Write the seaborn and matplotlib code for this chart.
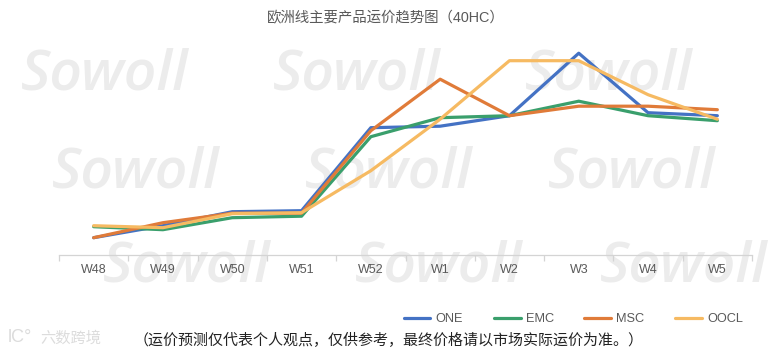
import matplotlib
matplotlib.use('Agg')
import matplotlib.pyplot as plt
import pandas as pd
import seaborn as sns

WEEKS = ['W48', 'W49', 'W50', 'W51', 'W52', 'W1', 'W2', 'W3', 'W4', 'W5']
ONE = [17, 29, 43, 44, 127, 128.5, 139, 201.5, 142, 139]
EMC = [28, 25, 37, 38.5, 118, 137, 139, 153.5, 139, 134]
MSC = [17, 32, 41.5, 41.5, 124, 175.5, 139, 148.5, 148.5, 145]
OOCL = [29, 27, 41, 42, 84, 135.5, 194, 194, 160, 135.5]
SERIES = {'ONE': ONE, 'EMC': EMC, 'MSC': MSC, 'OOCL': OOCL}
COLORS = ['#4472C4', '#3A9F6C', '#E07B39', '#F6BA62']

TITLE = '欧洲线主要产品运价趋势图（40HC）'
NOTE = '（运价预测仅代表个人观点，仅供参考，最终价格请以市场实际运价为准。）'
WATERMARK = 'Sowoll'
# watermark anchors in pixels, left edge / baseline
WATERMARK_SPOTS = [(21, 90), (273, 90), (525, 90),
                   (52, 188), (305, 188), (548, 188),
                   (103, 281), (355, 281), (600, 281)]
W, H = 774, 353
GREY = '#595959'

sns.set_theme(style='white')
plt.rcParams['font.family'] = ['Liberation Sans', 'Noto Sans CJK SC', 'DejaVu Sans']


def main() -> None:
    """Draws the freight trend chart."""
    frames = [pd.DataFrame({'week': WEEKS, 'price': values, 'carrier': name}) for name, values in SERIES.items()]
    data = pd.concat(frames, ignore_index=True)

    fig = plt.figure(figsize=(W / 100, H / 100), dpi=100, facecolor='white')
    ax = fig.add_axes([59 / W, 1 - 254.7 / H, 693 / W, 224.7 / H])
    ax.patch.set_alpha(0)

    for x, y in WATERMARK_SPOTS:
        fig.text(x / W, 1 - y / H, WATERMARK, fontsize=41, style='italic', weight='semibold',
                 family='Open Sans', color='#ececec', zorder=-1)

    sns.lineplot(data=data, x='week', y='price', hue='carrier', palette=COLORS, linewidth=2.3,
                 sort=False, ax=ax, legend=False)
    ax.set_xlim(-0.5, 9.5)
    ax.set_ylim(0, 224.7)
    ax.set_xlabel('')
    ax.set_ylabel('')
    ax.set_yticks([])
    for side in ['top', 'left', 'right']:
        ax.spines[side].set_visible(False)
    ax.spines['bottom'].set_color('#d4d4d4')
    ax.spines['bottom'].set_linewidth(0.9)

    ax.set_xticks(range(len(WEEKS)), WEEKS)
    ax.tick_params(axis='x', which='major', length=0, pad=7, labelsize=9, labelcolor=GREY)
    ax.set_xticks([i - 0.5 for i in range(len(WEEKS) + 1)], minor=True)
    ax.tick_params(axis='x', which='minor', bottom=True, length=4, width=0.9, color='#d4d4d4')

    handles = [plt.Line2D([], [], color=c, linewidth=2.3) for c in COLORS]
    fig.legend(handles, list(SERIES), loc='center right', bbox_to_anchor=(743 / W, 1 - 319 / H), ncol=4,
               frameon=False, fontsize=9.2, labelcolor=GREY, handlelength=2.1, handletextpad=0.4,
               columnspacing=2.4, borderpad=0, borderaxespad=0)

    fig.text(386 / W, 1 - 18.5 / H, TITLE, ha='center', va='center', fontsize=10.4, color=GREY)
    fig.text(389 / W, 1 - 340 / H, NOTE, ha='center', va='center', fontsize=10.8, color='#222222')
    fig.text(8 / W, 1 - 338 / H, 'lC°', ha='left', va='center', fontsize=13, color='#dcdcdc')
    fig.text(40 / W, 1 - 338 / H, '六数跨境', ha='left', va='center', fontsize=11, color='#dcdcdc')

    fig.savefig('out.png', dpi=100)


if __name__ == '__main__':
    main()
